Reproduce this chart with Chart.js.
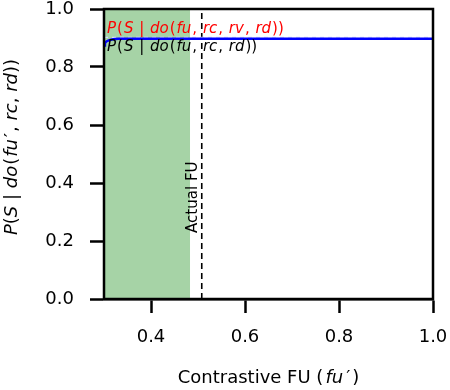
<!DOCTYPE html>
<html>
<head>
<meta charset="utf-8">
<script src="https://cdn.jsdelivr.net/npm/chart.js@4/dist/chart.umd.min.js"></script>
<style>
html,body{margin:0;padding:0;background:#fff;}
#wrap{width:450px;height:390px;position:relative;}
</style>
</head>
<body>
<div id="wrap"><canvas id="c" width="450" height="390"></canvas></div>
<script>
// ---- data ----
const fuValues   = [0.300, 0.302, 0.305, 0.310, 0.315, 0.320, 0.330, 0.350, 0.400, 0.500, 0.600, 0.700, 0.800, 0.900, 1.000];
const probNoRv   = [0.874, 0.882, 0.888, 0.892, 0.894, 0.896, 0.897, 0.897, 0.897, 0.897, 0.897, 0.897, 0.897, 0.897, 0.897];
const probWithRv = [0.902, 0.902, 0.902, 0.902, 0.902, 0.902, 0.902, 0.902, 0.902, 0.902, 0.902, 0.902, 0.902, 0.902, 0.902];
const xTicks = [0.4, 0.6, 0.8, 1.0];
const yTicks = [0.0, 0.2, 0.4, 0.6, 0.8, 1.0];
const xRange = [0.3, 1.0];
const yRange = [0.0, 1.0];
const bandRange = [0.3, 0.483];
const actualFU = 0.508;
// text segments: [text, italic, gapBefore(px)]
const labelWithRv = [['P',1],['(',0,1],['S',1,1],[' | ',0,1],['do',1,1],['(',0,1],['fu',1,1],[', ',0,1],['rc',1,1],[', ',0,1],['rv',1,1],[', ',0,1],['rd',1,1],['))',0,1]];
const labelNoRv   = [['P',1],['(',0,1],['S',1,1],[' | ',0,1],['do',1,1],['(',0,1],['fu',1,1],[', ',0,1],['rc',1,1],[', ',0,1],['rd',1,1],['))',0,1]];
const yTitle = [['P',1],['(',0],['S',1],[' | ',0],['do',1],['(',0,1],['fu',1,1],['\u2032',0,2],[', ',0,1],['rc',1],[', ',0],['rd',1],['))',0]];
const xTitle = [['Contrastive FU (',0],['fu',1,2],['\u2032',0,3],[')',0,2]];
const actualLabel = 'Actual FU';

const FAM = '"DejaVu Sans"';
function segFont(it,size){ return (it?'italic ':'')+size+'px '+FAM; }
function richWidth(ctx, segs, size){
  let w=0;
  for(const s of segs){ ctx.font=segFont(s[1],size); w+=ctx.measureText(s[0]).width+(s[2]||0); }
  return w;
}
function drawRich(ctx, segs, x, y, size, color, align){
  ctx.save();
  ctx.fillStyle=color; ctx.textBaseline='alphabetic'; ctx.textAlign='left';
  const w=richWidth(ctx,segs,size);
  let cx = align==='center' ? x-w/2 : x;
  for(const s of segs){ ctx.font=segFont(s[1],size); cx+=(s[2]||0); ctx.fillText(s[0],cx,y); cx+=ctx.measureText(s[0]).width; }
  ctx.restore();
}

const decor = {
  id:'decor',
  beforeDatasetsDraw(chart){
    const {ctx, chartArea:a, scales:{x,y}} = chart;
    ctx.save();
    ctx.fillStyle='rgb(166,211,166)';
    const x0=x.getPixelForValue(bandRange[0]), x1=x.getPixelForValue(bandRange[1]);
    ctx.fillRect(x0,a.top,x1-x0,a.bottom-a.top);
    const xa=x.getPixelForValue(actualFU);
    ctx.strokeStyle='#000'; ctx.lineWidth=1.6; ctx.setLineDash([6,4]);
    ctx.beginPath(); ctx.moveTo(xa,a.bottom); ctx.lineTo(xa,a.top); ctx.stroke();
    ctx.setLineDash([]);
    ctx.translate(xa-5, y.getPixelForValue(0.228));
    ctx.rotate(-Math.PI/2);
    ctx.font='15px '+FAM; ctx.fillStyle='#000'; ctx.textAlign='left'; ctx.textBaseline='alphabetic';
    ctx.fillText(actualLabel,0,0);
    ctx.restore();
  },
  afterDatasetsDraw(chart){
    const {ctx, chartArea:a, scales:{x,y}} = chart;
    const lx = x.getPixelForValue(xRange[0])+3;
    const ly = y.getPixelForValue(probNoRv[probNoRv.length-1]);
    drawRich(ctx, labelWithRv, lx, ly-5.5, 15, '#ff0000');
    drawRich(ctx, labelNoRv, lx, ly+12.5, 15, '#000');
    ctx.save();
    ctx.strokeStyle='#000'; ctx.lineWidth=2.5;
    ctx.strokeRect(a.left,a.top,a.right-a.left,a.bottom-a.top);
    ctx.restore();
  },
  afterDraw(chart){
    const {ctx, chartArea:a} = chart;
    drawRich(ctx, xTitle, (a.left+a.right)/2, 383, 18, '#000', 'center');
    ctx.save();
    ctx.translate(17,147);
    ctx.rotate(-Math.PI/2);
    drawRich(ctx, yTitle, 0, 0, 18, '#000', 'center');
    ctx.restore();
  }
};

new Chart(document.getElementById('c'), {
  type:'line',
  data:{
    datasets:[
      {label:'P(S | do(fu, rc, rd))', data:fuValues.map((v,i)=>({x:v,y:probNoRv[i]})), borderColor:'#0000ff', borderWidth:2.5, pointRadius:0, tension:0},
      {label:'P(S | do(fu, rc, rv, rd))', data:fuValues.map((v,i)=>({x:v,y:probWithRv[i]})), borderColor:'rgba(215,222,255,0.95)', borderWidth:1.2, borderDash:[4,4], pointRadius:0, tension:0}
    ]
  },
  options:{
    responsive:false, animation:false,
    layout:{padding:{top:9,right:17,left:0,bottom:0}},
    plugins:{legend:{display:false}, tooltip:{enabled:false}},
    scales:{
      x:{type:'linear', min:xRange[0], max:xRange[1],
        afterBuildTicks:s=>{s.ticks=xTicks.map(v=>({value:v}));},
        afterFit:s=>{s.height=91; s.paddingLeft=0; s.paddingRight=0;},
        grid:{drawOnChartArea:false, drawTicks:true, tickLength:14, tickWidth:2.5, tickColor:'#000'},
        border:{display:true, width:2.5, color:'#000'},
        ticks:{font:{family:'DejaVu Sans', size:18}, color:'#000', padding:14, maxRotation:0, callback:v=>v.toFixed(1)}
      },
      y:{type:'linear', min:yRange[0], max:yRange[1],
        afterBuildTicks:s=>{s.ticks=yTicks.map(v=>({value:v}));},
        afterFit:s=>{s.width=104; s.paddingTop=0; s.paddingBottom=0;},
        grid:{drawOnChartArea:false, drawTicks:true, tickLength:14, tickWidth:2.5, tickColor:'#000'},
        border:{display:true, width:2.5, color:'#000'},
        ticks:{font:{family:'DejaVu Sans', size:18}, color:'#000', padding:16, callback:v=>v.toFixed(1)}
      }
    }
  },
  plugins:[decor]
});
</script>
</body>
</html>
